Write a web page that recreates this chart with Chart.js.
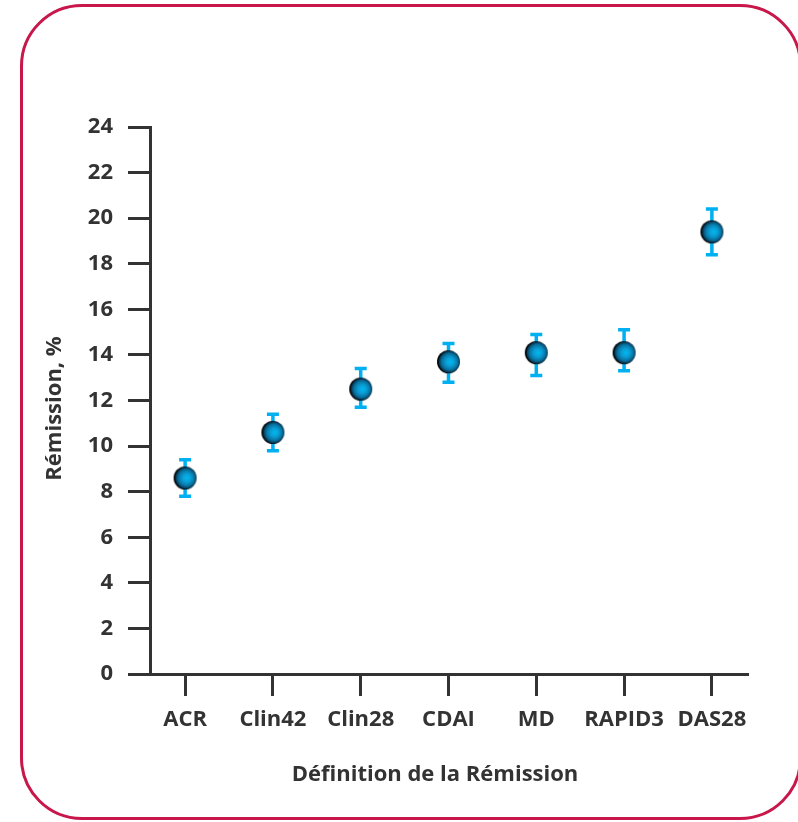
<!DOCTYPE html>
<html>
<head>
<meta charset="utf-8">
<script src="https://cdn.jsdelivr.net/npm/chart.js@4/dist/chart.umd.min.js"></script>
<style>
  html, body { margin: 0; padding: 0; background: #ffffff; }
  #wrap { position: relative; width: 798px; height: 822px; overflow: hidden; }
  #frame {
    position: absolute; left: 20px; top: 4px; width: 776px; height: 810px;
    border: 3px solid #c8174a; border-radius: 62px; pointer-events: none;
  }
  canvas { position: absolute; left: 0; top: 0; }
</style>
</head>
<body>
<div id="wrap">
  <canvas id="chart" width="798" height="822"></canvas>
  <div id="frame"></div>
</div>
<script>
// Remission rate by definition, with confidence interval
const categories = ['ACR', 'Clin42', 'Clin28', 'CDAI', 'MD', 'RAPID3', 'DAS28'];
const remission  = [8.6, 10.6, 12.5, 13.7, 14.1, 14.1, 19.4];
const ciLow      = [7.8,  9.8, 11.7, 12.8, 13.1, 13.3, 18.4];
const ciHigh     = [9.4, 11.4, 13.4, 14.5, 14.9, 15.1, 20.4];
const yTicks     = [0, 2, 4, 6, 8, 10, 12, 14, 16, 18, 20, 22, 24];
const xTitle     = 'Définition de la Rémission';
const yTitle     = 'Rémission, %';

const inkColor = '#333333';
const barColor = '#00b0f0';
const fontFamily = '"Open Sans", "Liberation Sans", sans-serif';
const fontSize = 22;

// Shaded sphere used as the point marker
function makeSphere(r) {
  const size = r * 2 + 2;
  const c = document.createElement('canvas');
  c.width = size; c.height = size;
  const ctx = c.getContext('2d');
  const cx = size / 2, cy = size / 2;
  const g = ctx.createRadialGradient(cx + 2, cy, 0, cx + 1, cy, r);
  g.addColorStop(0.0, '#00b8f2');
  g.addColorStop(0.35, '#0a9fd6');
  g.addColorStop(0.7, '#0872a0');
  g.addColorStop(0.9, '#053a58');
  g.addColorStop(1.0, '#000000');
  ctx.beginPath();
  ctx.arc(cx, cy, r, 0, Math.PI * 2);
  ctx.fillStyle = g;
  ctx.fill();
  return c;
}

// Error bars with flat caps, drawn beneath the markers
const errorBars = {
  id: 'errorBars',
  beforeDatasetsDraw(chart) {
    const { ctx, scales: { x, y } } = chart;
    ctx.save();
    ctx.strokeStyle = barColor;
    ctx.lineCap = 'butt';
    ctx.lineWidth = 3.5;
    categories.forEach((_, i) => {
      const px = x.getPixelForValue(i);
      const pLow = y.getPixelForValue(ciLow[i]);
      const pHigh = y.getPixelForValue(ciHigh[i]);
      ctx.beginPath();
      ctx.moveTo(px, pLow);
      ctx.lineTo(px, pHigh);
      ctx.moveTo(px - 6, pLow);
      ctx.lineTo(px + 6, pLow);
      ctx.moveTo(px - 6, pHigh);
      ctx.lineTo(px + 6, pHigh);
      ctx.stroke();
    });
    ctx.restore();
  }
};

// Axis titles, placed relative to the plot area
const axisTitles = {
  id: 'axisTitles',
  afterDraw(chart) {
    const { ctx, chartArea } = chart;
    ctx.save();
    ctx.fillStyle = inkColor;
    ctx.font = `bold ${fontSize}px ${fontFamily}`;
    ctx.textAlign = 'center';
    ctx.textBaseline = 'middle';
    ctx.fillText(xTitle, chartArea.left + 285, chartArea.bottom + 101);
    ctx.translate(55, (chartArea.top + chartArea.bottom) / 2 + 8);
    ctx.rotate(-Math.PI / 2);
    ctx.fillText(yTitle, 0, 0);
    ctx.restore();
  }
};

const points = remission.map((v, i) => ({ x: i, y: v }));

new Chart(document.getElementById('chart'), {
  type: 'scatter',
  data: {
    datasets: [{
      data: points,
      pointStyle: makeSphere(11.5),
      pointRadius: 11.5,
      pointHoverRadius: 11.5
    }]
  },
  plugins: [errorBars, axisTitles],
  options: {
    responsive: false,
    devicePixelRatio: 1,
    animation: false,
    layout: { padding: { left: 0, top: 127, right: 51, bottom: 0 } },
    plugins: { legend: { display: false }, tooltip: { enabled: false } },
    scales: {
      x: {
        type: 'linear',
        min: -0.4,
        max: 6.4,
        afterBuildTicks(scale) {
          scale.ticks = categories.map((_, i) => ({ value: i }));
        },
        afterFit(scale) { scale.height = 148; },
        border: { display: true, color: inkColor, width: 3 },
        grid: { drawOnChartArea: false, drawTicks: true, tickLength: 22, color: inkColor, lineWidth: 3 },
        ticks: {
          autoSkip: false,
          maxRotation: 0,
          padding: 11,
          color: inkColor,
          font: { family: fontFamily, size: fontSize, weight: 'bold' },
          callback: (v) => categories[v] ?? ''
        }
      },
      y: {
        min: 0,
        max: 24,
        afterBuildTicks(scale) {
          scale.ticks = yTicks.map(v => ({ value: v }));
        },
        afterFit(scale) { scale.width = 150; },
        border: { display: true, color: inkColor, width: 3 },
        grid: { drawOnChartArea: false, drawTicks: true, tickLength: 22, color: inkColor, lineWidth: 3 },
        ticks: {
          padding: 15,
          color: inkColor,
          font: { family: fontFamily, size: fontSize, weight: 'bold' }
        }
      }
    }
  }
});
</script>
</body>
</html>
